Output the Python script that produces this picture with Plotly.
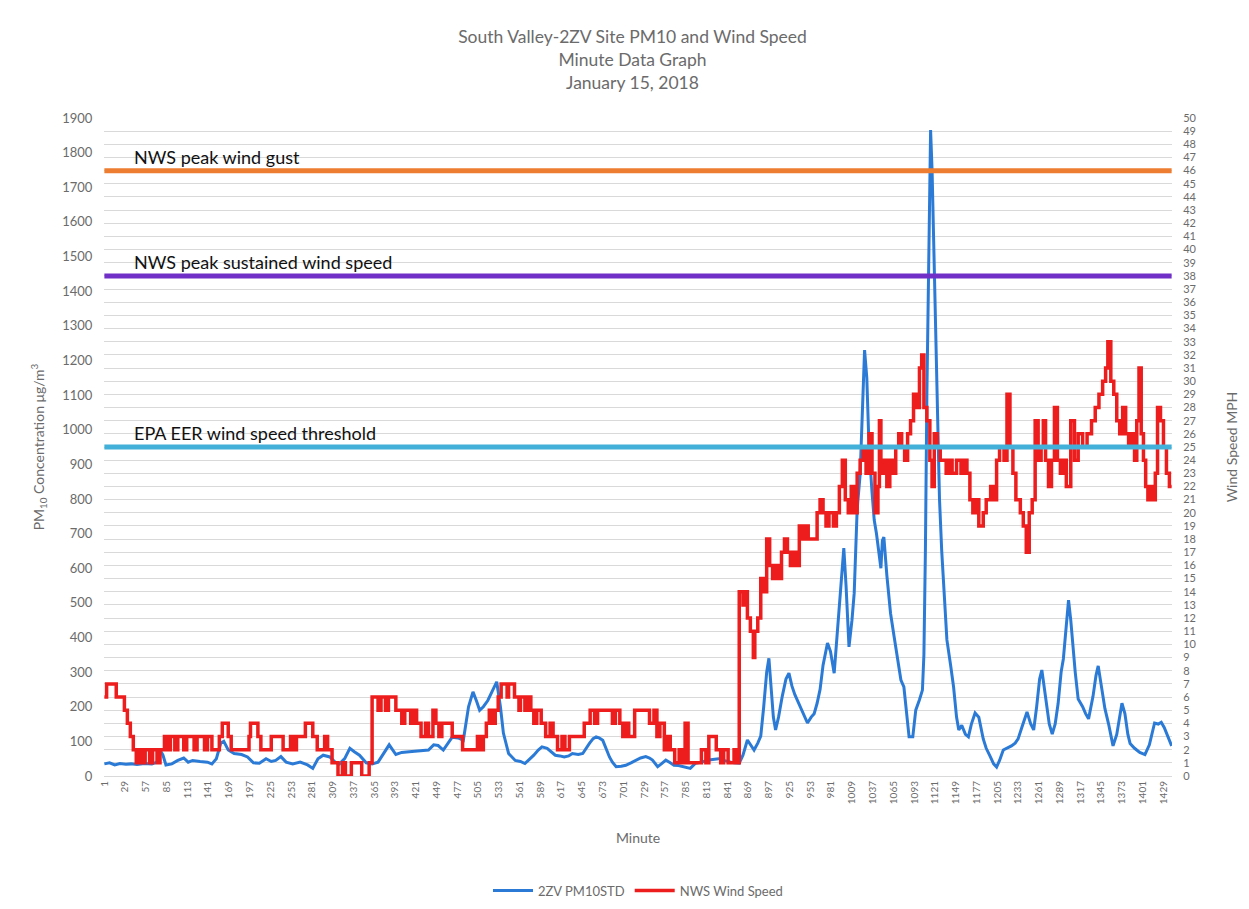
import plotly.graph_objects as go

# PM10 minute data (minute, ug/m3)
pm_minutes = [1, 8, 15, 22, 30, 37, 45, 55, 65, 72, 76, 80, 84, 92, 100, 108, 114, 120, 130, 140,
              146, 152, 158, 162, 168, 176, 186, 194, 202, 210, 219, 226, 232, 239, 246, 255, 265,
              275, 282, 289, 296, 305, 312, 318, 325, 332, 338, 345, 354, 362, 370, 378, 385, 394,
              402, 412, 420, 430, 438, 445, 451, 458, 464, 470, 478, 485, 492, 498, 503, 507, 512,
              518, 524, 530, 535, 539, 546, 555, 562, 568, 574, 580, 586, 591, 598, 604, 609, 615,
              621, 627, 632, 640, 646, 655, 660, 664, 668, 673, 678, 682, 686, 691, 698, 704, 711,
              718, 724, 731, 736, 740, 744, 747, 752, 758, 764, 769, 775, 780, 786, 791, 798, 806,
              816, 822, 829, 836, 843, 850, 857, 862, 868, 872, 877, 882, 886, 890, 894, 897, 900,
              903, 906, 910, 915, 920, 924, 928, 932, 935, 940, 945, 949, 954, 958, 962, 966, 970,
              976, 980, 985, 988, 991, 995, 998, 1001, 1005, 1009, 1012, 1016, 1020, 1023, 1026,
              1029, 1032, 1036, 1039, 1042, 1045, 1048, 1050, 1052, 1056, 1061, 1066, 1070, 1075,
              1079, 1083, 1086, 1091, 1095, 1100, 1104, 1106, 1108, 1110, 1113, 1115, 1117, 1120,
              1124, 1127, 1130, 1134, 1137, 1142, 1146, 1150, 1153, 1157, 1162, 1166, 1170, 1175,
              1180, 1186, 1190, 1195, 1200, 1204, 1208, 1213, 1218, 1224, 1229, 1233, 1238, 1245,
              1250, 1254, 1258, 1262, 1265, 1270, 1275, 1279, 1283, 1287, 1291, 1294, 1298, 1301,
              1304, 1307, 1310, 1314, 1320, 1324, 1328, 1334, 1338, 1341, 1345, 1350, 1355, 1361,
              1366, 1370, 1373, 1377, 1381, 1384, 1390, 1397, 1404, 1410, 1414, 1417, 1422, 1426,
              1430, 1434, 1440]
pm_values = [35, 38, 32, 36, 34, 35, 33, 36, 35, 40, 75, 60, 32, 35, 45, 52, 40, 45, 42, 40,
             35, 50, 95, 100, 75, 65, 62, 55, 38, 37, 50, 42, 45, 56, 40, 35, 40,
             32, 22, 50, 60, 55, 40, 35, 50, 80, 70, 60, 38, 35, 40, 65, 90, 62,
             68, 70, 72, 75, 75, 90, 88, 75, 95, 112, 110, 103, 200, 243, 215, 190, 200,
             218, 245, 272, 200, 124, 65, 45, 42, 36, 48, 60, 75, 84, 80, 70, 60, 58,
             55, 58, 65, 62, 65, 94, 108, 113, 110, 103, 75, 55, 40, 27, 28, 31, 38,
             46, 52, 56, 52, 46, 35, 27, 35, 46, 38, 31, 30, 27, 24, 22, 37, 40,
             46, 48, 50, 45, 41, 38, 37, 60, 104, 90, 75, 95, 115, 200, 300, 340, 260,
             170, 133, 170, 230, 280, 297, 260, 235, 220, 195, 170, 153, 170, 180, 210, 250, 320,
             384, 360, 297, 380, 470, 580, 658, 550, 373, 450, 528, 770, 870, 1050, 1230,
             1150, 950, 820, 739, 700, 640, 600, 680, 690, 580, 470, 400, 344, 277,
             257, 180, 113, 113, 190, 220, 248, 350, 650, 1100, 1600, 1865, 1750, 1450,
             1100, 800, 650, 500, 393, 320, 257, 170, 133, 146, 120, 113, 150, 182,
             170, 107, 80, 58, 35, 26, 45, 75, 80, 87, 95, 107, 140, 185,
             150, 133, 200, 280, 306, 220, 150, 121, 150, 210, 300, 338, 450, 508,
             450, 361, 300, 222, 200, 180, 165, 230, 290, 318, 260, 195, 150, 87,
             120, 180, 210, 180, 120, 94, 80, 68, 62, 90, 130, 153, 150, 155,
             140, 120, 87]

# NWS wind speed (minute where value starts, mph)
wind_minutes = [1, 4, 17, 28, 32, 36, 40, 44, 48, 52, 56, 62, 66, 72, 76, 82, 86, 90, 96, 100,
                108, 112, 122, 126, 136, 140, 146, 156, 160, 168, 172, 196, 198, 208, 212, 226,
                242, 252, 256, 260, 272, 282, 288, 298, 302, 308, 316, 322, 326, 334, 348, 358,
                362, 370, 374, 380, 384, 394, 402, 406, 414, 418, 422, 428, 434, 438, 444, 448,
                452, 456, 464, 470, 484, 500, 504, 508, 512, 516, 520, 524, 528, 532, 536, 544,
                546, 554, 560, 562, 568, 572, 576, 580, 584, 590, 596, 602, 606, 612, 618, 622,
                628, 648, 656, 662, 666, 686, 690, 696, 700, 704, 708, 716, 736, 742, 746, 750,
                756, 760, 764, 770, 776, 780, 784, 788, 806, 812, 816, 826, 832, 836, 842, 850,
                854, 857, 862, 866, 868, 872, 876, 878, 882, 886, 890, 894, 898, 902, 906, 910,
                914, 918, 922, 926, 930, 934, 938, 942, 946, 950, 962, 966, 970, 974, 978, 984,
                988, 992, 996, 1000, 1004, 1008, 1012, 1016, 1020, 1024, 1028, 1032, 1036, 1040,
                1044, 1046, 1048, 1052, 1056, 1060, 1064, 1068, 1072, 1076, 1080, 1084, 1088,
                1092, 1096, 1100, 1103, 1106, 1110, 1114, 1117, 1120, 1124, 1128, 1136, 1140,
                1144, 1150, 1156, 1160, 1164, 1168, 1172, 1176, 1180, 1186, 1190, 1196, 1200,
                1204, 1208, 1214, 1218, 1222, 1226, 1230, 1236, 1240, 1244, 1248, 1252, 1256,
                1260, 1264, 1267, 1270, 1274, 1278, 1282, 1286, 1290, 1294, 1298, 1304, 1309,
                1314, 1320, 1326, 1332, 1337, 1342, 1347, 1351, 1354, 1358, 1362, 1366, 1370,
                1374, 1378, 1382, 1386, 1390, 1393, 1396, 1399, 1402, 1405, 1408, 1412, 1415,
                1418, 1421, 1425, 1429, 1433, 1437, 1440]
wind_mph = [6, 7, 6, 5, 4, 3, 2, 1, 2, 1, 2, 1, 2, 1, 2, 3, 2, 3, 2, 3,
            2, 3, 2, 3, 2, 3, 2, 3, 4, 3, 2, 3, 4, 3, 2, 3,
            2, 3, 2, 3, 4, 3, 2, 3, 2, 1, 0, 1, 0, 1, 0, 1,
            6, 5, 6, 5, 6, 5, 4, 5, 4, 5, 4, 3, 4, 3, 5, 4,
            3, 4, 4, 3, 2, 2, 3, 2, 3, 4, 5, 4, 5, 6, 7, 6,
            7, 6, 5, 6, 5, 6, 5, 4, 5, 4, 3, 4, 3, 2, 3, 2,
            3, 4, 5, 4, 5, 4, 5, 4, 3, 4, 3, 5, 4, 5, 3, 4,
            2, 3, 2, 1, 2, 1, 4, 1, 2, 1, 3, 2, 1, 2, 1, 2,
            1, 14, 13, 14, 12, 11, 9, 11, 12, 15, 14, 18, 16, 15, 16, 15,
            17, 18, 17, 16, 17, 16, 19, 18, 19, 18, 20, 21, 20, 19, 20, 19,
            20, 22, 24, 21, 20, 22, 20, 23, 24, 25, 23, 26, 23, 20,
            22, 27, 23, 24, 22, 24, 23, 25, 26, 25, 24, 26, 27,
            29, 28, 31, 32, 28, 27, 24, 22, 26, 25, 24, 23, 24,
            23, 24, 23, 24, 23, 21, 20, 21, 19, 20, 21, 22, 21,
            24, 25, 24, 29, 25, 23, 21, 20, 19, 17, 20, 21, 27,
            24, 25, 27, 24, 22, 24, 28, 24, 23, 24, 22, 27, 24,
            26, 25, 26, 27, 28, 29, 30, 31, 33, 30, 29, 27, 26,
            28, 26, 25, 26, 24, 27, 31, 26, 24, 22, 21, 22, 21,
            23, 28, 27, 25, 23, 22, 22]

# reference wind speeds (mph)
threshold_mph = [46, 38, 25]
threshold_labels = ["NWS peak wind gust", "NWS peak sustained wind speed", "EPA EER wind speed threshold"]
threshold_colors = ["#ED7D31", "#7030C8", "#42B0D8"]

tick_minutes = list(range(1, 1441, 28))
tick_labels = [str(m) for m in tick_minutes]

GRAY = "#6b6b6b"
FONT = "Lato, Open Sans, sans-serif"

fig = go.Figure()

fig.add_trace(go.Scatter(
    x=pm_minutes, y=pm_values, mode="lines", name="2ZV PM10STD",
    line=dict(color="#2B7BD6", width=3)
))

fig.add_trace(go.Scatter(
    x=wind_minutes, y=wind_mph, mode="lines", name="NWS Wind Speed",
    line=dict(color="#EE1D1D", width=3.5, shape="hv"), yaxis="y2"
))

for val, lab, col in zip(threshold_mph, threshold_labels, threshold_colors):
    fig.add_trace(go.Scatter(
        x=[1, 1440], y=[val, val], mode="lines", yaxis="y2",
        line=dict(color=col, width=5), showlegend=False, hoverinfo="skip"
    ))
    fig.add_annotation(
        x=38, y=val, xref="x", yref="y2", text=lab, showarrow=False,
        xanchor="left", yanchor="bottom", yshift=1,
        font=dict(family=FONT, size=18, color="#111111")
    )

fig.update_layout(
    width=1249, height=909,
    margin=dict(l=96, r=85, t=110, b=138),
    paper_bgcolor="white", plot_bgcolor="white",
    font=dict(family=FONT, color=GRAY),
    title=dict(
        text="South Valley-2ZV Site PM10 and Wind Speed<br>Minute Data Graph<br>January 15, 2018",
        x=0.5, xanchor="center", y=0.961, yanchor="top",
        font=dict(family=FONT, size=17.5, color=GRAY)
    ),
    xaxis=dict(
        range=[0.5, 1440.5], tickmode="array", tickvals=tick_minutes, ticktext=tick_labels,
        tickangle=-90, tickfont=dict(size=10, color=GRAY), showgrid=False, zeroline=False,
        showline=True, linecolor="#D9D9D9", ticks="",
        title=dict(text="Minute", font=dict(size=14, color=GRAY), standoff=29)
    ),
    yaxis=dict(
        range=[0, 1900], tickmode="linear", tick0=0, dtick=100, showgrid=False,
        zeroline=False, tickfont=dict(size=13, color=GRAY),
        ticks="outside", ticklen=8, tickcolor="rgba(0,0,0,0)",
        title=dict(text="PM<sub>10</sub> Concentration μg/m<sup>3</sup>",
                   font=dict(size=14, color=GRAY), standoff=14)
    ),
    yaxis2=dict(
        range=[0, 50], overlaying="y", side="right", tickmode="linear", tick0=0, dtick=1,
        showgrid=True, gridcolor="#D9D9D9", gridwidth=1, zeroline=False,
        tickfont=dict(size=11, color=GRAY),
        ticks="outside", ticklen=8, tickcolor="rgba(0,0,0,0)",
        title=dict(text="Wind Speed MPH", font=dict(size=14, color=GRAY), standoff=31)
    ),
    legend=dict(
        orientation="h", x=0.5, xanchor="center", y=-0.174, yanchor="middle",
        font=dict(size=13, color=GRAY), itemwidth=40
    ),
    showlegend=True
)

fig.write_html("out.html")
